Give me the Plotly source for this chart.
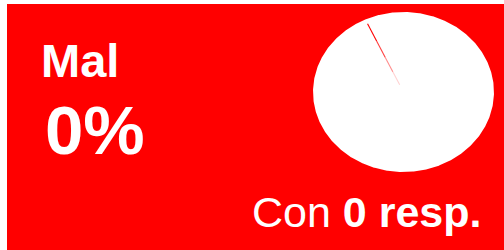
import math
import plotly.graph_objects as go

# ---- data ----
label = "Mal"
percent_value = 0            # %
responses = 0                # resp.
pie_labels = ["Mal", "Resto"]
pie_values = [0, 100]
pie_colors = ["#ff0000", "#ffffff"]
start_angle_deg = 335        # clockwise from 12 o'clock

W, H = 504, 250
RED = "#ff0000"
FONT = "Arial, 'Liberation Sans', sans-serif"

fig = go.Figure()

# pie drawn as wedges in an axis whose aspect is not locked (elliptical pie)
total = sum(pie_values)
ang = start_angle_deg
for lab, val, col in zip(pie_labels, pie_values, pie_colors):
    span = 360.0 * val / total if total else 0
    n = max(2, int(span * 2))
    xs, ys = [0.0], [0.0]
    for i in range(n + 1):
        a = math.radians(ang + span * i / n)
        xs.append(math.sin(a))
        ys.append(math.cos(a))
    xs.append(0.0)
    ys.append(0.0)
    if val > 0:
        fig.add_trace(go.Scatter(x=xs, y=ys, mode="lines", fill="toself",
                                 fillcolor=col, line=dict(width=0),
                                 hoverinfo="skip", showlegend=False))
    ang += span

# slice edge of the (empty) "Mal" slice, fading toward the centre
a0 = math.radians(start_angle_deg)
segs = [(0.94, 0.70, 1.0), (0.70, 0.48, 0.75), (0.48, 0.28, 0.45), (0.28, 0.10, 0.18)]
for r1, r2, op in segs:
    fig.add_trace(go.Scatter(x=[r1 * math.sin(a0), r2 * math.sin(a0)],
                             y=[r1 * math.cos(a0), r2 * math.cos(a0)], mode="lines",
                             line=dict(color=pie_colors[0], width=1.1), opacity=op,
                             hoverinfo="skip", showlegend=False))

px0, px1, py0, py1 = 313, 494, 12, 172
fig.update_layout(
    width=W, height=H,
    margin=dict(l=0, r=0, t=0, b=0),
    paper_bgcolor="white",
    plot_bgcolor="rgba(0,0,0,0)",
    xaxis=dict(domain=[px0 / W, px1 / W], range=[-1, 1], visible=False, fixedrange=True),
    yaxis=dict(domain=[1 - py1 / H, 1 - py0 / H], range=[-1, 1], visible=False, fixedrange=True),
    shapes=[dict(type="rect", xref="paper", yref="paper", x0=7 / W, x1=1, y0=0, y1=1 - 4 / H,
                 fillcolor=RED, line=dict(width=0), layer="below")],
    annotations=[
        dict(text=f"<b>{label}</b>", xref="paper", yref="paper", x=39 / W, y=1 - 60 / H,
             xanchor="left", yanchor="middle", showarrow=False,
             font=dict(family=FONT, size=47, color="white")),
        dict(text=f"<b>{percent_value}%</b>", xref="paper", yref="paper", x=43 / W, y=1 - 130 / H,
             xanchor="left", yanchor="middle", showarrow=False,
             font=dict(family=FONT, size=69, color="white")),
        dict(text=f"Con <b>{responses} resp.</b>", xref="paper", yref="paper", x=483 / W, y=1 - 212 / H,
             xanchor="right", yanchor="middle", showarrow=False,
             font=dict(family=FONT, size=43, color="white")),
    ],
)

fig.write_html("out.html", config={"displayModeBar": False, "staticPlot": True},
               post_script="document.body.style.margin='0';document.body.style.overflow='hidden';")
